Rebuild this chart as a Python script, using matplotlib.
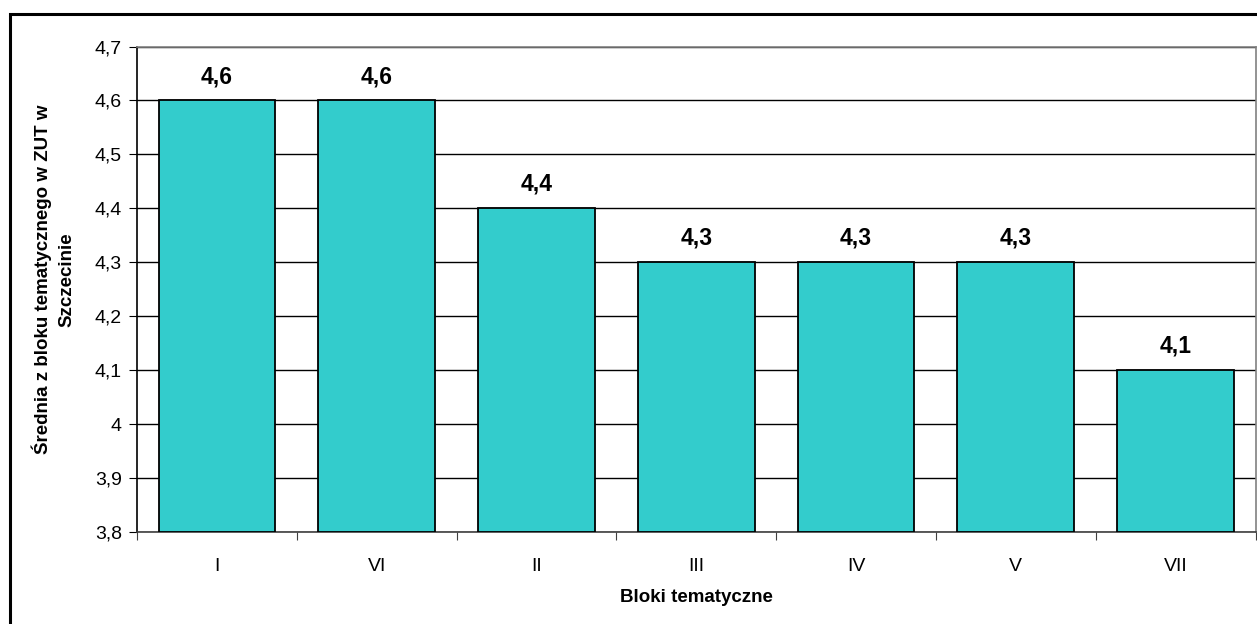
import matplotlib.pyplot as plt
from matplotlib.patches import Rectangle

bloki = ['I', 'VI', 'II', 'III', 'IV', 'V', 'VII']
srednie = [4.6, 4.6, 4.4, 4.3, 4.3, 4.3, 4.1]
yticks = [3.8, 3.9, 4.0, 4.1, 4.2, 4.3, 4.4, 4.5, 4.6, 4.7]
ytick_labels = ['3,8', '3,9', '4', '4,1', '4,2', '4,3', '4,4', '4,5', '4,6', '4,7']

plt.rcParams['font.family'] = ['Liberation Sans', 'DejaVu Sans']

fig = plt.figure(figsize=(12.57, 6.24), dpi=100)
ax = fig.add_axes([137 / 1257, 1 - 532 / 624, (1255.5 - 137) / 1257, (532 - 46.5) / 624])

# ramka wokol calego wykresu
fig.patches.append(Rectangle((10 / 1257, -0.01), 1.1, 1 - 14 / 624 + 0.01,
                             transform=fig.transFigure, fill=False,
                             edgecolor='black', linewidth=2.2, zorder=0))

x = range(len(bloki))
ax.bar(x, [s - 3.8 for s in srednie], bottom=3.8, width=0.73,
       color='#33CCCC', edgecolor='black', linewidth=1.3, zorder=3)

for i, s in enumerate(srednie):
    ax.text(i, s + 0.023, f'{s:.1f}'.replace('.', ','), ha='center', va='bottom',
            fontsize=16.5, fontweight='bold')

ax.set_xlim(-0.5, len(bloki) - 0.5)
ax.set_ylim(3.8, 4.7)
ax.set_yticks(yticks)
ax.set_yticklabels(ytick_labels, fontsize=14)
ax.yaxis.grid(True, color='black', linewidth=1.0, zorder=0)
ax.set_axisbelow(True)

ax.set_xticks([i + 0.5 for i in range(-1, len(bloki))])
ax.set_xticklabels([])
ax.set_xticks(list(x), minor=True)
ax.set_xticklabels(bloki, minor=True, fontsize=14)
ax.tick_params(axis='x', which='minor', length=0, pad=19)
ax.tick_params(axis='x', which='major', length=6, color='#404040')
ax.tick_params(axis='y', length=6, pad=5)

ax.spines['top'].set_color('#808080')
ax.spines['right'].set_color('#808080')
ax.spines['bottom'].set_color('#404040')
ax.spines['left'].set_color('black')
for sp in ax.spines.values():
    sp.set_linewidth(1.2)

ax.set_xlabel('Bloki tematyczne', fontsize=13.5, fontweight='bold', labelpad=10)
ax.set_ylabel('Średnia z bloku tematycznego w ZUT w\nSzczecinie', fontsize=13.5,
              fontweight='bold', linespacing=1.5)
ax.yaxis.set_label_coords(-0.055, 0.52)

fig.savefig('out.png', dpi=100)
